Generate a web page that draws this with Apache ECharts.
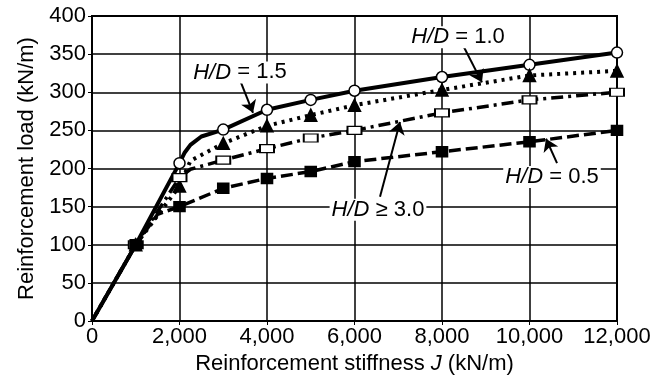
<!DOCTYPE html>
<html><head><meta charset="utf-8">
<script src="https://cdn.jsdelivr.net/npm/echarts@6/dist/echarts.min.js"></script>
<style>html,body{margin:0;padding:0;background:#fff}#c{width:655px;height:384px}</style>
</head><body><div id="c"></div>
<script>
// x values (reinforcement stiffness J, kN/m)
const J = [0, 1000, 2000, 3000, 4000, 5000, 6000, 8000, 10000, 12000];
// reinforcement load (kN/m) for each H/D case
const loadHD10 = [0, 100, 207, 251, 277, 290, 302, 320, 336, 352];
const loadHD15 = [0, 100, 177, 233, 256, 270, 283, 303, 322, 328];
const loadHD30 = [0, 100, 188, 211, 226, 240, 250, 273, 290, 300];
const loadHD05 = [0, 100, 150, 174, 187, 196, 209, 222, 235, 250];
// extra curve points (bend just after J = 2000)
const kneeHD10 = [[2120, 221], [2250, 231], [2500, 242]];
const kneeHD15 = [[2250, 210]];
const kneeHD30 = [[2250, 199]];
const kneeHD05 = [[1500, 140]];
const xTicks = [0, 2000, 4000, 6000, 8000, 10000, 12000];
const yTicks = [0, 50, 100, 150, 200, 250, 300, 350, 400];
// annotations: label centre and arrow [from, to] in data coordinates
const labelText = ['{i|H/D} = 1.0', '{i|H/D} = 1.5', '{i|H/D} ≥ 3.0', '{i|H/D} = 0.5'];
const labelPos = [[8366, 372], [3383, 326], [6537, 146], [10514, 189]];
const arrowFrom = [[8503, 359], [3383, 316], [6583, 163], [10629, 207]];
const arrowTo = [[8914, 313], [3680, 273], [7040, 261], [10377, 239]];

function lineData(loads, knee) {
  const pts = J.map((x, i) => [x, loads[i]]).concat(knee);
  return pts.sort((a, b) => a[0] - b[0]);
}
function markData(loads) { return J.slice(1).map((x, i) => [x, loads[i + 1]]); }

const FONT = '"Liberation Sans", Arial, sans-serif';
const chart = echarts.init(document.getElementById('c'), null, {renderer: 'canvas'});
const lineSeries = (data, type, width) => ({
  type: 'line', data, showSymbol: false, symbol: 'none', z: 3,
  lineStyle: {color: '#000', width, type, opacity: 1, join: 'round', cap: 'butt'}
});
const markSeries = (data, symbol, size, fill) => ({
  type: 'scatter', data, symbol, symbolSize: size, z: 4,
  itemStyle: {color: fill, borderColor: '#000', borderWidth: 1.5, opacity: 1},
  emphasis: {disabled: true}
});

chart.setOption({
  animation: false,
  backgroundColor: '#fff',
  grid: {left: 92, right: 38, top: 16, bottom: 63, show: true, borderColor: '#000', borderWidth: 2, backgroundColor: 'transparent'},
  xAxis: {
    type: 'value', min: 0, max: 12000, interval: 2000,
    name: 'Reinforcement stiffness {i|J} (kN/m)', nameLocation: 'middle', nameGap: 27,
    nameTextStyle: {fontFamily: FONT, fontSize: 22, color: '#000',
      rich: {i: {fontFamily: FONT, fontSize: 22, fontStyle: 'italic', color: '#000'}}},
    axisLine: {lineStyle: {color: '#000', width: 2}},
    axisTick: {show: true, length: 4, lineStyle: {color: '#000'}},
    axisLabel: {fontFamily: FONT, fontSize: 22, color: '#000', margin: 5,
      formatter: v => xTicks.includes(v) ? v.toLocaleString('en-US') : ''},
    splitLine: {show: true, lineStyle: {color: '#000', width: 1.5}}
  },
  yAxis: {
    type: 'value', min: 0, max: 400, interval: 50,
    name: 'Reinforcement load (kN/m)', nameLocation: 'middle', nameGap: 54,
    nameTextStyle: {fontFamily: FONT, fontSize: 22, color: '#000'},
    axisLine: {lineStyle: {color: '#000', width: 2}},
    axisTick: {show: true, length: 4, lineStyle: {color: '#000'}},
    axisLabel: {fontFamily: FONT, fontSize: 22, color: '#000', margin: 6,
      formatter: v => yTicks.includes(v) ? String(v) : ''},
    splitLine: {show: true, lineStyle: {color: '#000', width: 1.5}}
  },
  series: [
    lineSeries(lineData(loadHD10, kneeHD10), 'solid', 4),
    lineSeries(lineData(loadHD15, kneeHD15), [3, 5], 4),
    lineSeries(lineData(loadHD30, kneeHD30), [12, 5, 3, 5], 3.5),
    lineSeries(lineData(loadHD05, kneeHD05), [12, 5], 3.5),
    markSeries(markData(loadHD10), 'circle', 11, '#fff'),
    markSeries(markData(loadHD15), 'triangle', 12, '#000'),
    markSeries(markData(loadHD30), 'rect', [14, 8], '#fff'),
    markSeries(markData(loadHD05), 'rect', [11, 10], '#000'),
    {
      type: 'lines', coordinateSystem: 'cartesian2d', z: 6,
      symbol: ['none', 'arrow'], symbolSize: 12,
      lineStyle: {color: '#000', width: 2, opacity: 1, curveness: 0},
      data: arrowFrom.map((f, i) => ({coords: [f, arrowTo[i]]}))
    },
    {
      type: 'scatter', z: 7, symbolSize: 1, itemStyle: {color: 'rgba(0,0,0,0)', opacity: 1},
      emphasis: {disabled: true},
      data: labelPos.map((p, i) => ({value: p, name: labelText[i]})),
      label: {show: true, position: 'inside', formatter: p => p.name,
        fontFamily: FONT, fontSize: 22, color: '#000', opacity: 1, backgroundColor: '#fff', padding: [0, 2],
        rich: {i: {fontFamily: FONT, fontSize: 22, fontStyle: 'italic', color: '#000'}}}
    }
  ]
});
</script></body></html>
